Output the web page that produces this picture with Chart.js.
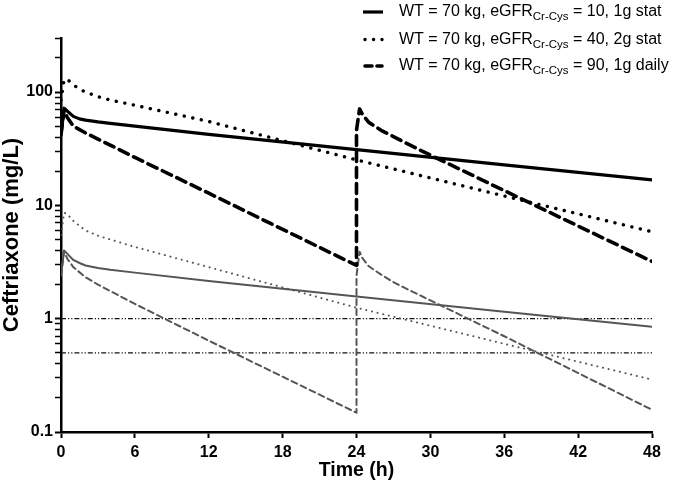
<!DOCTYPE html>
<html>
<head>
<meta charset="utf-8">
<script src="https://cdn.jsdelivr.net/npm/chart.js@4.4.1/dist/chart.umd.min.js"></script>
<style>
  body { margin: 0; background: #fff; }
  #wrap { width: 675px; height: 486px; position: relative; }
</style>
</head>
<body>
<div id="wrap"><canvas id="myChart"></canvas></div>
<script>
// sampling times (h)
var timesStat = [0, 0.25, 0.5, 1, 1.5, 2, 3, 4, 6, 12, 24, 36, 48];
var timesDaily = [0, 0.25, 0.5, 1, 2, 3, 6, 12, 24, 24, 24.25, 24.5, 25, 26, 27, 28, 30, 36, 48];

// concentrations (mg/L), black = upper curves, grey = lower curves
var stat10High = [42, 72, 68, 61, 58, 56.5, 54.5, 53, 50, 42.3, 31, 22.8, 16.8];
var stat40High = [85, 128, 130, 116, 106, 100, 91, 85, 76.5, 55, 25.2, 12.1, 5.85];
var daily90High = [42, 70, 60, 50, 43.5, 38.5, 26.5, 12.8, 2.95, 46, 71, 63, 54, 46, 40.5, 35.5, 27.8, 13.5, 3.2];

var stat10Low = [2.4, 4.0, 3.75, 3.3, 3.1, 2.95, 2.8, 2.7, 2.55, 2.15, 1.57, 1.15, 0.85];
var stat40Low = [5.5, 8.6, 8.4, 7.3, 6.6, 6.0, 5.4, 5.0, 4.3, 2.85, 1.25, 0.6, 0.29];
var daily90Low = [2.4, 3.95, 3.4, 2.85, 2.32, 2.0, 1.35, 0.64, 0.148, 2.4, 3.9, 3.4, 2.9, 2.45, 2.1, 1.85, 1.45, 0.7, 0.157];

// horizontal reference levels (mg/L)
var refLevels = [1, 0.5];

// axis ticks
var xTicks = [0, 6, 12, 18, 24, 30, 36, 42, 48];
var yMajor = [0.1, 1, 10, 100];
var yLabels = ['0.1', '1', '10', '100'];

// legend text
var legendPre = 'WT = 70 kg, eGFR';
var legendSub = 'Cr-Cys';
var legendPost = [' = 10, 1g stat', ' = 40, 2g stat', ' = 90, 1g daily'];

function toPoints(xs, ys) {
    return xs.map(function (x, i) { return { x: x, y: ys[i] }; });
}

// minor ticks 2..9 within each decade, plus 200, 300 at the top
var yTickValues = [];
yMajor.forEach(function (m) {
    for (var k = 1; k <= 9; k++) {
        var v = parseFloat((m * k).toPrecision(3));
        if (v <= 300) yTickValues.push(v);
    }
});

var styles = {
    solidHigh: { borderColor: '#000', borderWidth: 3.2, borderDash: [] },
    dotHigh: { borderColor: '#000', borderWidth: 3.4, borderDash: [0.1, 8.6] },
    dashHigh: { borderColor: '#000', borderWidth: 3.6, borderDash: [10, 6] },
    solidLow: { borderColor: '#555', borderWidth: 2, borderDash: [] },
    dotLow: { borderColor: '#555', borderWidth: 2, borderDash: [0.1, 5.7] },
    dashLow: { borderColor: '#555', borderWidth: 2, borderDash: [6, 4] }
};

function line(label, data, st) {
    return {
        label: label,
        data: data,
        borderColor: st.borderColor,
        borderWidth: st.borderWidth,
        borderDash: st.borderDash,
        borderCapStyle: st.borderDash.length ? 'round' : 'butt',
        borderJoinStyle: 'round',
        pointRadius: 0,
        fill: false,
        tension: 0
    };
}

var datasets = [
    line(legendPre + legendSub + legendPost[0], toPoints(timesStat, stat10High), styles.solidHigh),
    line(legendPre + legendSub + legendPost[1], toPoints(timesStat, stat40High), styles.dotHigh),
    line(legendPre + legendSub + legendPost[2], toPoints(timesDaily, daily90High), styles.dashHigh),
    line('low 10', toPoints(timesStat, stat10Low), styles.solidLow),
    line('low 40', toPoints(timesStat, stat40Low), styles.dotLow),
    line('low 90', toPoints(timesDaily, daily90Low), styles.dashLow)
];
refLevels.forEach(function (lv) {
    datasets.push({
        label: 'ref ' + lv,
        data: [{ x: xTicks[0], y: lv }, { x: xTicks[xTicks.length - 1], y: lv }],
        borderColor: '#111',
        borderWidth: 1.2,
        borderDash: [5, 2, 1.2, 2, 1.2, 2],
        pointRadius: 0,
        fill: false
    });
});

var legendPlugin = {
    id: 'customLegend',
    afterDraw: function (chart) {
        var ctx = chart.ctx;
        var rows = [12, 39.5, 66];
        var keys = ['solidHigh', 'dotHigh', 'dashHigh'];
        ctx.save();
        rows.forEach(function (y, i) {
            var st = styles[keys[i]];
            ctx.beginPath();
            ctx.strokeStyle = st.borderColor;
            ctx.lineWidth = st.borderWidth;
            ctx.setLineDash(i === 1 ? [0.1, 8.4] : (i === 2 ? [7, 5] : []));
            ctx.lineCap = i === 0 ? 'butt' : 'round';
            ctx.moveTo(i === 0 ? 363 : 365, y);
            ctx.lineTo(i === 0 ? 383 : 382, y);
            ctx.stroke();
            ctx.setLineDash([]);
            ctx.fillStyle = '#000';
            ctx.textBaseline = 'middle';
            var x = 399;
            ctx.font = '16px "Liberation Sans", Arial, sans-serif';
            ctx.fillText(legendPre, x, y);
            x += ctx.measureText(legendPre).width;
            ctx.font = '11.5px "Liberation Sans", Arial, sans-serif';
            ctx.fillText(legendSub, x, y + 5);
            x += ctx.measureText(legendSub).width;
            ctx.font = '16px "Liberation Sans", Arial, sans-serif';
            ctx.fillText(legendPost[i], x, y);
        });
        ctx.restore();
    }
};

Chart.defaults.font.family = '"Liberation Sans", Arial, sans-serif';
Chart.defaults.color = '#000';

var ctx = document.getElementById('myChart').getContext('2d');

var myChart = new Chart(ctx, {
    type: 'line',
    data: { datasets: datasets },
    options: {
        responsive: true,
        maintainAspectRatio: false,
        animation: false,
        devicePixelRatio: 1,
        layout: { padding: { left: 0, right: 23, top: 38, bottom: 0 } },
        plugins: { legend: { display: false }, tooltip: { enabled: false } },
        scales: {
            x: {
                type: 'linear',
                min: 0,
                max: 48,
                afterBuildTicks: function (s) { s.ticks = xTicks.map(function (v) { return { value: v }; }); },
                ticks: { font: { size: 16, weight: 'bold' }, color: '#000', padding: 5, maxRotation: 0 },
                grid: { drawOnChartArea: false, tickLength: 6, tickWidth: 2, tickColor: '#000' },
                border: { color: '#000', width: 2.5 },
                title: { display: true, text: 'Time (h)', font: { size: 19.5, weight: 'bold' }, color: '#000', padding: { top: 0, bottom: 4 } },
                afterFit: function (s) { s.height = 54; }
            },
            y: {
                type: 'logarithmic',
                min: 0.1,
                max: 300,
                afterBuildTicks: function (s) { s.ticks = yTickValues.map(function (v) { return { value: v }; }); },
                ticks: {
                    autoSkip: false,
                    font: { size: 16, weight: 'bold' },
                    color: '#000',
                    padding: 2,
                    callback: function (v) {
                        var i = yMajor.indexOf(v);
                        return i >= 0 ? yLabels[i] : '';
                    }
                },
                grid: {
                    drawOnChartArea: false,
                    tickLength: 6,
                    tickColor: '#000',
                    tickWidth: function (c) { return yMajor.indexOf(c.tick.value) >= 0 ? 2 : 1.5; }
                },
                border: { color: '#000', width: 2.5 },
                title: { display: true, text: 'Ceftriaxone (mg/L)', font: { size: 22, weight: 'bold', lineHeight: 1 }, color: '#000', padding: { top: 1, bottom: 0 } },
                afterFit: function (s) { s.width = 61; }
            }
        }
    },
    plugins: [legendPlugin]
});
</script>
</body>
</html>
